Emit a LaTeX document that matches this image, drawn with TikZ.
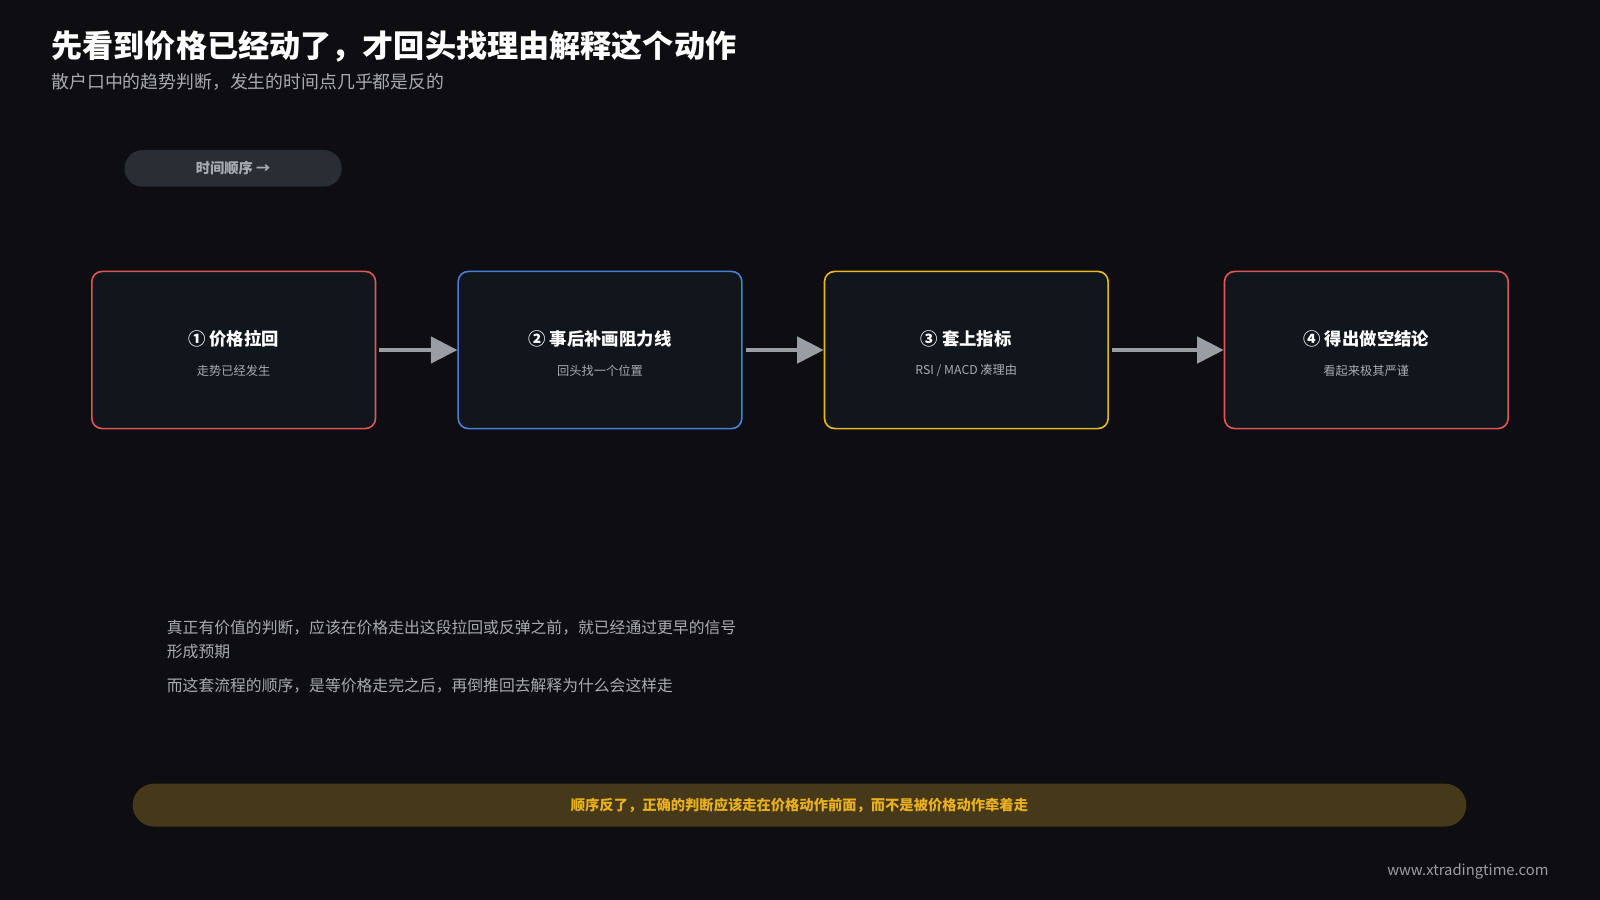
\documentclass[tikz,border=0pt]{standalone}
\usepackage{fontspec}
\setmainfont{Noto Sans CJK SC}
\usetikzlibrary{positioning,arrows.meta}
\definecolor{bgdark}{HTML}{0D0D12}
\definecolor{boxfill}{HTML}{11151C}
\definecolor{stepred}{HTML}{E05555}
\definecolor{stepblue}{HTML}{4A7FD6}
\definecolor{stepyellow}{HTML}{E8B923}
\definecolor{flowgray}{HTML}{9A9DA3}
\definecolor{textgray}{HTML}{A8ABB0}
\definecolor{pillfill}{HTML}{2A2D33}
\definecolor{bandfill}{HTML}{46391A}
\definecolor{bandtext}{HTML}{E8B020}
\tikzset{
  step/.style={draw=#1,line width=1.6pt,fill=boxfill,rounded corners=10pt,
    minimum width=278pt,minimum height=154pt,inner sep=0pt},
  steptitle/.style={text=white,font=\fontsize{17}{20}\selectfont\bfseries},
  stepnote/.style={text=textgray,font=\fontsize{12}{14}\selectfont},
  flow/.style={flowgray,line width=3pt,-{Triangle[length=26pt,width=26pt]}},
  para/.style={text=textgray,anchor=west,font=\fontsize{15.5}{18}\selectfont}
}
\begin{document}
\begin{tikzpicture}[x=1pt,y=-1pt]
    % Background
    \fill[bgdark] (0,0) rectangle (1568,882);
    \useasboundingbox (0,0) rectangle (1568,882);

    % Heading
    \node[anchor=west,text=white,font=\fontsize{30.5}{34}\selectfont\bfseries] (title) at (47,46) {先看到价格已经动了，才回头找理由解释这个动作};
    \node[anchor=west,text=textgray,font=\fontsize{17.5}{20}\selectfont] (subtitle) at (47,80) {散户口中的趋势判断，发生的时间点几乎都是反的};

    % Time pill
    \node[fill=pillfill,rounded corners=18pt,minimum width=213pt,minimum height=36pt,
      text=textgray,font=\fontsize{14}{16}\selectfont\bfseries] (timeline) at (228.5,165) {时间顺序 →};

    % Steps
    \node[step=stepred] (pull) at (229,343) {};
    \node[step=stepblue] (line) at (588,343) {};
    \node[step=stepyellow] (ind) at (947,343) {};
    \node[step=stepred] (short) at (1339,343) {};
    \foreach \n/\t/\s in {pull/{① 价格拉回}/{走势已经发生},
                          line/{② 事后补画阻力线}/{回头找一个位置},
                          ind/{③ 套上指标}/{RSI / MACD 凑理由},
                          short/{④ 得出做空结论}/{看起来极其严谨}} {
        \node[steptitle] at ([yshift=11pt]\n.center) {\t};
        \node[stepnote] at ([yshift=-20pt]\n.center) {\s};
    }
    \draw[flow] ([xshift=3pt]pull.east) -- (line.west);
    \draw[flow] ([xshift=3pt]line.east) -- (ind.west);
    \draw[flow] ([xshift=3pt]ind.east) -- (short.west);

    % Notes
    \node[para] (note1) at (160,615) {真正有价值的判断，应该在价格走出这段拉回或反弹之前，就已经通过更早的信号};
    \node[para] (note2) at (160,639) {形成预期};
    \node[para] (note3) at (160,672) {而这套流程的顺序，是等价格走完之后，再倒推回去解释为什么会这样走};

    % Banner
    \node[fill=bandfill,rounded corners=21pt,minimum width=1307pt,minimum height=42pt,
      text=bandtext,font=\fontsize{14}{16}\selectfont\bfseries] (band) at (783.5,789) {顺序反了，正确的判断应该走在价格动作前面，而不是被价格动作牵着走};

    % Footer
    \node[anchor=east,text=flowgray,font=\fontsize{14.5}{16}\selectfont] (site) at (1521,854) {www.xtradingtime.com};
\end{tikzpicture}
\end{document}
